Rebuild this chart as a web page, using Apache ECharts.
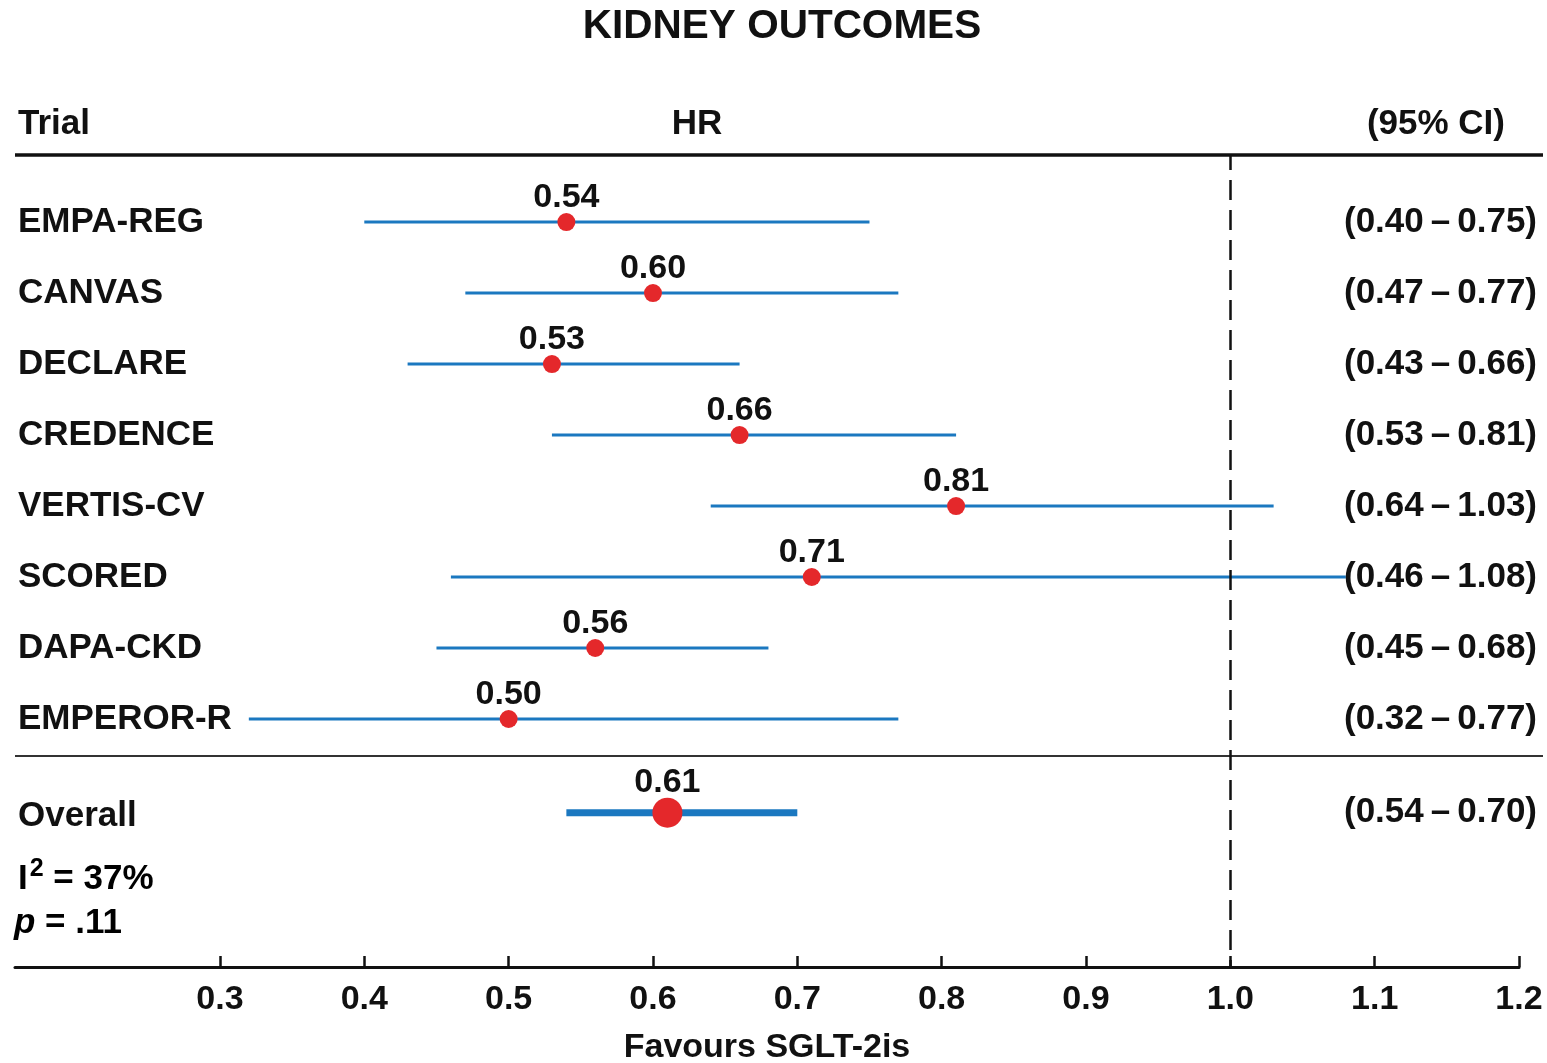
<!DOCTYPE html>
<html>
<head>
<meta charset="utf-8">
<title>Kidney outcomes</title>
<script src="https://cdn.jsdelivr.net/npm/echarts@6/dist/echarts.min.js"></script>
<style>
  html, body { margin: 0; padding: 0; background: #fff; width: 1547px; height: 1063px; overflow: hidden; }
  #chart { width: 1547px; height: 1063px; }
</style>
</head>
<body>
<div id="chart"></div>
<script>
// Trial-level hazard ratios with 95% confidence limits
const trials  = ['EMPA-REG', 'CANVAS', 'DECLARE', 'CREDENCE', 'VERTIS-CV', 'SCORED', 'DAPA-CKD', 'EMPEROR-R'];
const hr      = [0.54, 0.60, 0.53, 0.66, 0.81, 0.71, 0.56, 0.50];
const ciLow   = [0.40, 0.47, 0.43, 0.53, 0.64, 0.46, 0.45, 0.32];
const ciHigh  = [0.75, 0.77, 0.66, 0.81, 1.03, 1.08, 0.68, 0.77];

// Pooled estimate
const overallName = 'Overall';
const overallHr   = 0.61;
const overallLow  = 0.54;
const overallHigh = 0.70;

// Heterogeneity statistics
const iSquared = '37%';
const pValue   = '.11';

// Axis tick values
const tickValues = [0.3, 0.4, 0.5, 0.6, 0.7, 0.8, 0.9, 1.0, 1.1, 1.2];

const FONT  = "'Liberation Sans', Arial, Helvetica, sans-serif";
const INK   = '#111111';
const BLUE  = '#1b78c0';
const RED   = '#e4282b';
const OVERALL_ROW = 8.32;   // pooled row sits a little below the trial rows

const fmt2 = v => v.toFixed(2);
const ciText = (lo, hi) => '(' + fmt2(lo) + '\u2009\u2013\u2009' + fmt2(hi) + ')';

// rows: [low, high, row, isOverall]
const ciRows = trials.map((t, i) => [ciLow[i], ciHigh[i], i, 0]);
ciRows.push([overallLow, overallHigh, OVERALL_ROW, 1]);
const rowNames = trials.concat([overallName]);
const rowCi = trials.map((t, i) => ciText(ciLow[i], ciHigh[i])).concat([ciText(overallLow, overallHigh)]);

const points = trials.map((t, i) => ({ value: [hr[i], i], symbolSize: 18 }));
points.push({ value: [overallHr, OVERALL_ROW], symbolSize: 30 });

const chart = echarts.init(document.getElementById('chart'), null, { renderer: 'canvas', width: 1547, height: 1063 });

function renderRow(params, api) {
  const lo = api.value(0), hi = api.value(1), row = api.value(2);
  const overall = api.value(3) === 1;
  const a = api.coord([lo, row]);
  const b = api.coord([hi, row]);
  const cs = params.coordSys;
  const textStyle = {
    fontFamily: FONT, fontWeight: 'bold', fontSize: 35, fill: INK,
    verticalAlign: 'middle'
  };
  return {
    type: 'group',
    children: [
      {
        type: 'line',
        shape: { x1: a[0], y1: a[1], x2: b[0], y2: b[1] },
        style: { stroke: BLUE, lineWidth: overall ? 7 : 3 }
      },
      {
        type: 'text', x: cs.x + 3, y: a[1] + (overall ? 4 : 0),
        style: Object.assign({ text: rowNames[params.dataIndex], align: 'left' }, textStyle)
      },
      {
        type: 'text', x: 1537, y: a[1],
        style: Object.assign({ text: rowCi[params.dataIndex], align: 'right' }, textStyle)
      }
    ]
  };
}

const option = {
  backgroundColor: '#ffffff',
  animation: false,
  grid: { left: 15, top: 155, width: 1504, height: 812, outerBoundsMode: 'none' },
  xAxis: {
    type: 'value',
    min: 0.158,
    max: 1.2,
    splitLine: { show: false },
    axisLine: { show: true, onZero: false, lineStyle: { color: INK, width: 3 } },
    axisTick: {
      show: true, inside: true, length: 11, customValues: tickValues,
      lineStyle: { color: INK, width: 2.5 }
    },
    axisLabel: {
      show: true, customValues: tickValues, margin: 16,
      formatter: v => v.toFixed(1),
      fontFamily: FONT, fontWeight: 'bold', fontSize: 34, color: INK
    },
    name: 'Favours SGLT-2is',
    nameLocation: 'middle',
    nameGap: 64,
    nameTextStyle: { fontFamily: FONT, fontWeight: 'bold', fontSize: 34, color: INK }
  },
  yAxis: {
    type: 'value',
    inverse: true,
    min: -0.944,
    max: 10.493,
    show: false
  },
  series: [
    {
      type: 'custom',
      renderItem: renderRow,
      data: ciRows,
      clip: false,
      z: 2
    },
    {
      type: 'scatter',
      data: points,
      symbol: 'circle',
      itemStyle: { color: RED, opacity: 1 },
      z: 3,
      label: {
        show: true,
        position: 'top',
        distance: 0,
        formatter: p => fmt2(p.value[0]),
        fontFamily: FONT, fontWeight: 'bold', fontSize: 34, color: INK,
        lineHeight: 30
      },
      markLine: {
        silent: true,
        symbol: ['none', 'none'],
        label: { show: false },
        lineStyle: { color: INK, width: 2.5, type: [20, 10], dashOffset: 5 },
        data: [{ xAxis: 1.0 }]
      }
    }
  ],
  graphic: [
    {
      type: 'text', x: 782, y: 27,
      style: {
        text: 'KIDNEY OUTCOMES',
        fontFamily: FONT, fontWeight: 'bold', fontSize: 40.5, fill: INK,
        align: 'center', verticalAlign: 'middle'
      }
    },
    {
      type: 'text', x: 18, y: 124,
      style: { text: 'Trial', fontFamily: FONT, fontWeight: 'bold', fontSize: 35, fill: INK, align: 'left', verticalAlign: 'middle' }
    },
    {
      type: 'text', x: 697, y: 124,
      style: { text: 'HR', fontFamily: FONT, fontWeight: 'bold', fontSize: 35, fill: INK, align: 'center', verticalAlign: 'middle' }
    },
    {
      type: 'text', x: 1505, y: 124,
      style: { text: '(95% CI)', fontFamily: FONT, fontWeight: 'bold', fontSize: 35, fill: INK, align: 'right', verticalAlign: 'middle' }
    },
    {
      type: 'line',
      shape: { x1: 15, y1: 155, x2: 1543, y2: 155 },
      style: { stroke: INK, lineWidth: 3.5 }
    },
    {
      type: 'line',
      shape: { x1: 15, y1: 756, x2: 1543, y2: 756 },
      style: { stroke: '#333333', lineWidth: 2 }
    },
    {
      type: 'text', x: 18, y: 879,
      style: {
        text: '{n|I}{s|2}{n| = ' + iSquared + '}',
        verticalAlign: 'middle', align: 'left',
        rich: {
          n: { fontFamily: FONT, fontWeight: 'bold', fontSize: 35, color: INK },
          s: { fontFamily: FONT, fontWeight: 'bold', fontSize: 25, color: INK, padding: [0, 0, 20, 2] }
        }
      }
    },
    {
      type: 'text', x: 14, y: 923,
      style: {
        text: '{i|p}{n| = ' + pValue + '}',
        verticalAlign: 'middle', align: 'left',
        rich: {
          i: { fontFamily: FONT, fontWeight: 'bold', fontStyle: 'italic', fontSize: 35, color: INK },
          n: { fontFamily: FONT, fontWeight: 'bold', fontSize: 35, color: INK }
        }
      }
    }
  ]
};

chart.setOption(option);
</script>
</body>
</html>
